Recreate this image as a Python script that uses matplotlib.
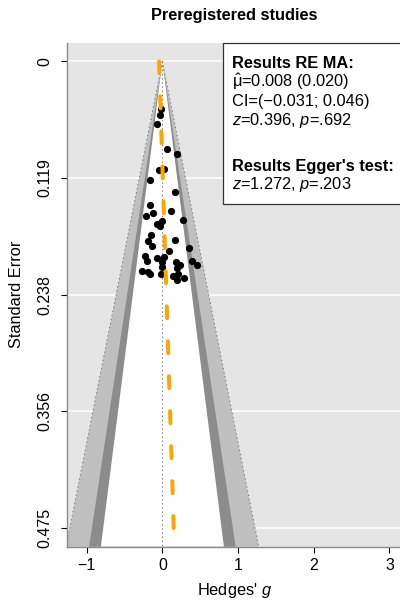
import numpy as np
import matplotlib
matplotlib.use("Agg")
import matplotlib.pyplot as plt
from matplotlib.patches import Rectangle

plt.rcParams['font.family'] = ['Liberation Sans', 'DejaVu Sans']
plt.rcParams['mathtext.fontset'] = 'custom'
plt.rcParams['mathtext.rm'] = 'Liberation Sans'
plt.rcParams['mathtext.it'] = 'Liberation Sans:italic'
plt.rcParams['mathtext.bf'] = 'Liberation Sans:bold'
plt.rcParams['lines.scale_dashes'] = False

# ---- data ----
title = "Preregistered studies"
hedges_g = [-0.013, -0.036, -0.066, 0.057, 0.198, -0.045, 0.021, -0.168, 0.172, -0.164,
            -0.124, -0.217, 0.110, -0.005, 0.275, -0.071, -0.036, -0.155, 0.172, -0.185,
            -0.137, 0.087, 0.351, -0.234, -0.066, 0.021, -0.207, 0.000, 0.176, 0.229,
            0.396, 0.462, 0.193, -0.005, -0.269, -0.190, -0.168, -0.013, 0.140, 0.206,
            0.285, 0.198]
std_err = [0.048, 0.055, 0.064, 0.089, 0.094, 0.111, 0.110, 0.121, 0.133, 0.146,
           0.154, 0.157, 0.152, 0.162, 0.161, 0.166, 0.168, 0.177, 0.182, 0.183,
           0.188, 0.193, 0.190, 0.198, 0.200, 0.199, 0.203, 0.204, 0.204, 0.207,
           0.203, 0.207, 0.210, 0.209, 0.213, 0.214, 0.216, 0.216, 0.218, 0.216,
           0.221, 0.223]
se_max = 0.475
ytick_labels = ["0", "0.119", "0.238", "0.356", "0.475"]
xticks = [-1, 0, 1, 2, 3]
contour_z = [2.576, 1.960, 1.645]          # 99%, 95%, 90%
contour_colors = ["#BFBFBF", "#8C8C8C", "white"]
egger_intercept = -0.043
egger_slope = 0.406
re_est, re_se = "0.008", "0.020"
ci_lo, ci_hi = "\u22120.031", "0.046"
re_z, re_p = "0.396", ".692"
eg_z, eg_p = "1.272", ".203"

# ---- layout ----
FW, FH = 400, 601
fig = plt.figure(figsize=(FW / 100, FH / 100), dpi=100)
ax_l, ax_r, ax_t, ax_b = 66.7, 402, 42.7, 546.7
ax = fig.add_axes([ax_l / FW, 1 - ax_b / FH, (ax_r - ax_l) / FW, (ax_b - ax_t) / FH])
ax.set_facecolor("#E5E5E5")

xmin = -1.264
xmax = xmin + (ax_r - ax_l) / 75.7
ymin, ymax = -0.04 * se_max, 1.04 * se_max
ax.set_xlim(xmin, xmax)
ax.set_ylim(ymax, ymin)

yt = np.linspace(0, se_max, 5)
for y in yt:
    ax.axhline(y, color="white", lw=1.1, zorder=0.5)

# contour funnel
for z, c in zip(contour_z, contour_colors):
    ax.fill([0, -z * ymax, z * ymax], [0, ymax, ymax], color=c, lw=0, zorder=1)
z99 = contour_z[0]
ax.plot([0, -z99 * ymax], [0, ymax], ls=(0, (1, 2)), color="#777777", lw=0.7, zorder=1.5)
ax.plot([0, z99 * ymax], [0, ymax], ls=(0, (1, 2)), color="#777777", lw=0.7, zorder=1.5)
ax.plot([0, 0], [0, ymax], ls=(0, (1, 2)), color="#777777", lw=0.7, zorder=1.6)

# points
ax.plot(hedges_g, std_err, 'o', color="black", ms=5.2, mew=0, zorder=3)

# Egger regression line
se_line = np.array([0, se_max])
ax.plot(egger_intercept + egger_slope * se_line, se_line, color="#FFA500", lw=2.9,
        dashes=(8.6, 16.6), dash_capstyle="round", solid_capstyle="round", zorder=4)

# axes styling
for s in ["top", "right"]:
    ax.spines[s].set_visible(False)
for s in ["left", "bottom"]:
    ax.spines[s].set_color("#8A8A8A")
    ax.spines[s].set_linewidth(1.0)
ax.set_yticks(yt)
ax.set_yticklabels(ytick_labels, rotation=90, va="center")
ax.set_xticks(xticks)
ax.set_xticklabels(["\u22121", "0", "1", "2", "3"])
ax.tick_params(axis="both", length=4.3, width=0.8, color="black", labelsize=11.5)
ax.tick_params(axis="y", pad=5.8)
ax.tick_params(axis="x", pad=3.5)

fig.text(234.5 / FW, 1 - 595 / FH, r"Hedges' $g$", ha="center", va="baseline", fontsize=11.8)
fig.text(17 / FW, 1 - 294.7 / FH, "Standard Error", ha="center", va="center",
         rotation=90, fontsize=11.8)
fig.text(234 / FW, 1 - 20 / FH, title, ha="center", va="baseline", fontsize=11.8,
         fontweight="bold")

# results box
box_l, box_t, box_b = 223.3, 43.3, 204
fig.add_artist(Rectangle((box_l / FW, 1 - box_b / FH), (430 - box_l) / FW, (box_b - box_t) / FH,
                         transform=fig.transFigure, facecolor="white", edgecolor="#333333",
                         lw=0.9, clip_on=False, zorder=5))
lines = [
    ("Results RE MA:", "bold", 68.3),
    (r"$\hat{\mathrm{\mu}}$=" + f"{re_est} ({re_se})", "normal", 87.5),
    (f"CI=({ci_lo}; {ci_hi})", "normal", 106),
    (r"$z$=" + re_z + r", $p$=" + re_p, "normal", 125.5),
    ("Results Egger's test:", "bold", 170.5),
    (r"$z$=" + eg_z + r", $p$=" + eg_p, "normal", 189),
]
for txt, wt, yb in lines:
    fig.text(231.7 / FW, 1 - yb / FH, txt, ha="left", va="baseline", fontsize=11.8,
             fontweight=wt, zorder=6)

fig.savefig("out.png", dpi=100)
